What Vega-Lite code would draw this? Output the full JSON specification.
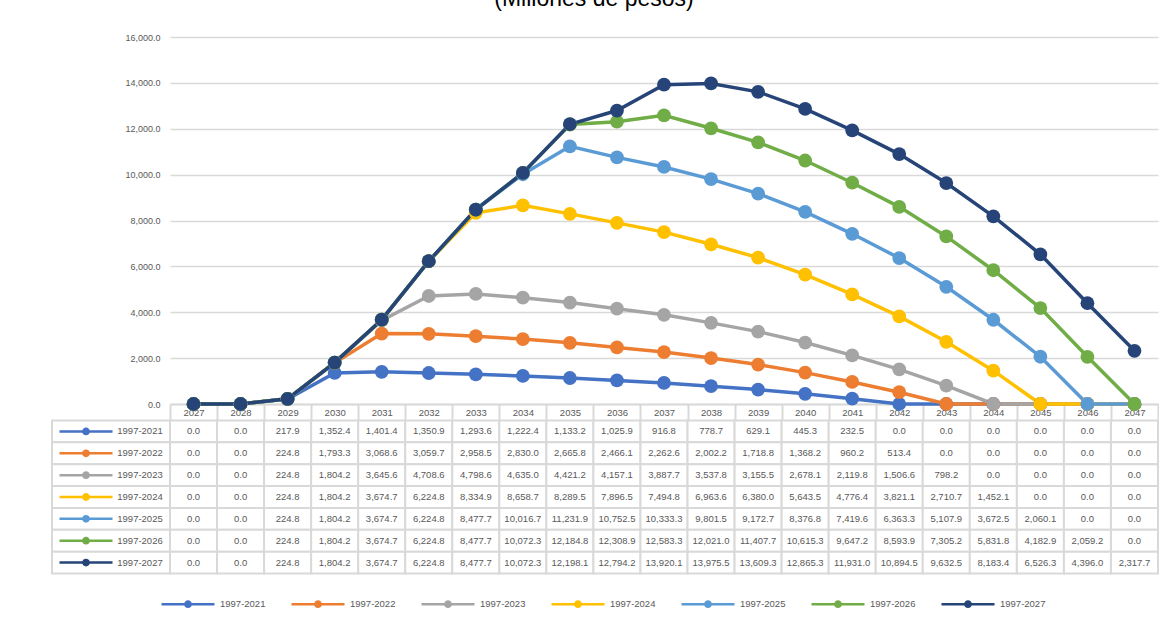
{
  "$schema": "https://vega.github.io/schema/vega-lite/v6.json",
  "background": "white",
  "padding": {"left": 51, "top": -13, "right": 0, "bottom": 0},
  "title": {
    "text": "(Millones de pesos)",
    "anchor": "start",
    "align": "center",
    "dx": 543,
    "offset": 4.5,
    "baseline": "alphabetic",
    "font": "Liberation Sans",
    "fontSize": 23,
    "fontWeight": "normal",
    "color": "#000000"
  },
  "datasets": {
    "proy": [
      {"serie": "1997-2021", "anio": "2027", "valor": 0},
      {"serie": "1997-2021", "anio": "2028", "valor": 0},
      {"serie": "1997-2021", "anio": "2029", "valor": 217.9},
      {"serie": "1997-2021", "anio": "2030", "valor": 1352.4},
      {"serie": "1997-2021", "anio": "2031", "valor": 1401.4},
      {"serie": "1997-2021", "anio": "2032", "valor": 1350.9},
      {"serie": "1997-2021", "anio": "2033", "valor": 1293.6},
      {"serie": "1997-2021", "anio": "2034", "valor": 1222.4},
      {"serie": "1997-2021", "anio": "2035", "valor": 1133.2},
      {"serie": "1997-2021", "anio": "2036", "valor": 1025.9},
      {"serie": "1997-2021", "anio": "2037", "valor": 916.8},
      {"serie": "1997-2021", "anio": "2038", "valor": 778.7},
      {"serie": "1997-2021", "anio": "2039", "valor": 629.1},
      {"serie": "1997-2021", "anio": "2040", "valor": 445.3},
      {"serie": "1997-2021", "anio": "2041", "valor": 232.5},
      {"serie": "1997-2021", "anio": "2042", "valor": 0},
      {"serie": "1997-2021", "anio": "2043", "valor": 0},
      {"serie": "1997-2021", "anio": "2044", "valor": 0},
      {"serie": "1997-2021", "anio": "2045", "valor": 0},
      {"serie": "1997-2021", "anio": "2046", "valor": 0},
      {"serie": "1997-2021", "anio": "2047", "valor": 0},
      {"serie": "1997-2022", "anio": "2027", "valor": 0},
      {"serie": "1997-2022", "anio": "2028", "valor": 0},
      {"serie": "1997-2022", "anio": "2029", "valor": 224.8},
      {"serie": "1997-2022", "anio": "2030", "valor": 1793.3},
      {"serie": "1997-2022", "anio": "2031", "valor": 3068.6},
      {"serie": "1997-2022", "anio": "2032", "valor": 3059.7},
      {"serie": "1997-2022", "anio": "2033", "valor": 2958.5},
      {"serie": "1997-2022", "anio": "2034", "valor": 2830.0},
      {"serie": "1997-2022", "anio": "2035", "valor": 2665.8},
      {"serie": "1997-2022", "anio": "2036", "valor": 2466.1},
      {"serie": "1997-2022", "anio": "2037", "valor": 2262.6},
      {"serie": "1997-2022", "anio": "2038", "valor": 2002.2},
      {"serie": "1997-2022", "anio": "2039", "valor": 1718.8},
      {"serie": "1997-2022", "anio": "2040", "valor": 1368.2},
      {"serie": "1997-2022", "anio": "2041", "valor": 960.2},
      {"serie": "1997-2022", "anio": "2042", "valor": 513.4},
      {"serie": "1997-2022", "anio": "2043", "valor": 0},
      {"serie": "1997-2022", "anio": "2044", "valor": 0},
      {"serie": "1997-2022", "anio": "2045", "valor": 0},
      {"serie": "1997-2022", "anio": "2046", "valor": 0},
      {"serie": "1997-2022", "anio": "2047", "valor": 0},
      {"serie": "1997-2023", "anio": "2027", "valor": 0},
      {"serie": "1997-2023", "anio": "2028", "valor": 0},
      {"serie": "1997-2023", "anio": "2029", "valor": 224.8},
      {"serie": "1997-2023", "anio": "2030", "valor": 1804.2},
      {"serie": "1997-2023", "anio": "2031", "valor": 3645.6},
      {"serie": "1997-2023", "anio": "2032", "valor": 4708.6},
      {"serie": "1997-2023", "anio": "2033", "valor": 4798.6},
      {"serie": "1997-2023", "anio": "2034", "valor": 4635.0},
      {"serie": "1997-2023", "anio": "2035", "valor": 4421.2},
      {"serie": "1997-2023", "anio": "2036", "valor": 4157.1},
      {"serie": "1997-2023", "anio": "2037", "valor": 3887.7},
      {"serie": "1997-2023", "anio": "2038", "valor": 3537.8},
      {"serie": "1997-2023", "anio": "2039", "valor": 3155.5},
      {"serie": "1997-2023", "anio": "2040", "valor": 2678.1},
      {"serie": "1997-2023", "anio": "2041", "valor": 2119.8},
      {"serie": "1997-2023", "anio": "2042", "valor": 1506.6},
      {"serie": "1997-2023", "anio": "2043", "valor": 798.2},
      {"serie": "1997-2023", "anio": "2044", "valor": 0},
      {"serie": "1997-2023", "anio": "2045", "valor": 0},
      {"serie": "1997-2023", "anio": "2046", "valor": 0},
      {"serie": "1997-2023", "anio": "2047", "valor": 0},
      {"serie": "1997-2024", "anio": "2027", "valor": 0},
      {"serie": "1997-2024", "anio": "2028", "valor": 0},
      {"serie": "1997-2024", "anio": "2029", "valor": 224.8},
      {"serie": "1997-2024", "anio": "2030", "valor": 1804.2},
      {"serie": "1997-2024", "anio": "2031", "valor": 3674.7},
      {"serie": "1997-2024", "anio": "2032", "valor": 6224.8},
      {"serie": "1997-2024", "anio": "2033", "valor": 8334.9},
      {"serie": "1997-2024", "anio": "2034", "valor": 8658.7},
      {"serie": "1997-2024", "anio": "2035", "valor": 8289.5},
      {"serie": "1997-2024", "anio": "2036", "valor": 7896.5},
      {"serie": "1997-2024", "anio": "2037", "valor": 7494.8},
      {"serie": "1997-2024", "anio": "2038", "valor": 6963.6},
      {"serie": "1997-2024", "anio": "2039", "valor": 6380.0},
      {"serie": "1997-2024", "anio": "2040", "valor": 5643.5},
      {"serie": "1997-2024", "anio": "2041", "valor": 4776.4},
      {"serie": "1997-2024", "anio": "2042", "valor": 3821.1},
      {"serie": "1997-2024", "anio": "2043", "valor": 2710.7},
      {"serie": "1997-2024", "anio": "2044", "valor": 1452.1},
      {"serie": "1997-2024", "anio": "2045", "valor": 0},
      {"serie": "1997-2024", "anio": "2046", "valor": 0},
      {"serie": "1997-2024", "anio": "2047", "valor": 0},
      {"serie": "1997-2025", "anio": "2027", "valor": 0},
      {"serie": "1997-2025", "anio": "2028", "valor": 0},
      {"serie": "1997-2025", "anio": "2029", "valor": 224.8},
      {"serie": "1997-2025", "anio": "2030", "valor": 1804.2},
      {"serie": "1997-2025", "anio": "2031", "valor": 3674.7},
      {"serie": "1997-2025", "anio": "2032", "valor": 6224.8},
      {"serie": "1997-2025", "anio": "2033", "valor": 8477.7},
      {"serie": "1997-2025", "anio": "2034", "valor": 10016.7},
      {"serie": "1997-2025", "anio": "2035", "valor": 11231.9},
      {"serie": "1997-2025", "anio": "2036", "valor": 10752.5},
      {"serie": "1997-2025", "anio": "2037", "valor": 10333.3},
      {"serie": "1997-2025", "anio": "2038", "valor": 9801.5},
      {"serie": "1997-2025", "anio": "2039", "valor": 9172.7},
      {"serie": "1997-2025", "anio": "2040", "valor": 8376.8},
      {"serie": "1997-2025", "anio": "2041", "valor": 7419.6},
      {"serie": "1997-2025", "anio": "2042", "valor": 6363.3},
      {"serie": "1997-2025", "anio": "2043", "valor": 5107.9},
      {"serie": "1997-2025", "anio": "2044", "valor": 3672.5},
      {"serie": "1997-2025", "anio": "2045", "valor": 2060.1},
      {"serie": "1997-2025", "anio": "2046", "valor": 0},
      {"serie": "1997-2025", "anio": "2047", "valor": 0},
      {"serie": "1997-2026", "anio": "2027", "valor": 0},
      {"serie": "1997-2026", "anio": "2028", "valor": 0},
      {"serie": "1997-2026", "anio": "2029", "valor": 224.8},
      {"serie": "1997-2026", "anio": "2030", "valor": 1804.2},
      {"serie": "1997-2026", "anio": "2031", "valor": 3674.7},
      {"serie": "1997-2026", "anio": "2032", "valor": 6224.8},
      {"serie": "1997-2026", "anio": "2033", "valor": 8477.7},
      {"serie": "1997-2026", "anio": "2034", "valor": 10072.3},
      {"serie": "1997-2026", "anio": "2035", "valor": 12184.8},
      {"serie": "1997-2026", "anio": "2036", "valor": 12308.9},
      {"serie": "1997-2026", "anio": "2037", "valor": 12583.3},
      {"serie": "1997-2026", "anio": "2038", "valor": 12021.0},
      {"serie": "1997-2026", "anio": "2039", "valor": 11407.7},
      {"serie": "1997-2026", "anio": "2040", "valor": 10615.3},
      {"serie": "1997-2026", "anio": "2041", "valor": 9647.2},
      {"serie": "1997-2026", "anio": "2042", "valor": 8593.9},
      {"serie": "1997-2026", "anio": "2043", "valor": 7305.2},
      {"serie": "1997-2026", "anio": "2044", "valor": 5831.8},
      {"serie": "1997-2026", "anio": "2045", "valor": 4182.9},
      {"serie": "1997-2026", "anio": "2046", "valor": 2059.2},
      {"serie": "1997-2026", "anio": "2047", "valor": 0},
      {"serie": "1997-2027", "anio": "2027", "valor": 0},
      {"serie": "1997-2027", "anio": "2028", "valor": 0},
      {"serie": "1997-2027", "anio": "2029", "valor": 224.8},
      {"serie": "1997-2027", "anio": "2030", "valor": 1804.2},
      {"serie": "1997-2027", "anio": "2031", "valor": 3674.7},
      {"serie": "1997-2027", "anio": "2032", "valor": 6224.8},
      {"serie": "1997-2027", "anio": "2033", "valor": 8477.7},
      {"serie": "1997-2027", "anio": "2034", "valor": 10072.3},
      {"serie": "1997-2027", "anio": "2035", "valor": 12198.1},
      {"serie": "1997-2027", "anio": "2036", "valor": 12794.2},
      {"serie": "1997-2027", "anio": "2037", "valor": 13920.1},
      {"serie": "1997-2027", "anio": "2038", "valor": 13975.5},
      {"serie": "1997-2027", "anio": "2039", "valor": 13609.3},
      {"serie": "1997-2027", "anio": "2040", "valor": 12865.3},
      {"serie": "1997-2027", "anio": "2041", "valor": 11931.0},
      {"serie": "1997-2027", "anio": "2042", "valor": 10894.5},
      {"serie": "1997-2027", "anio": "2043", "valor": 9632.5},
      {"serie": "1997-2027", "anio": "2044", "valor": 8183.4},
      {"serie": "1997-2027", "anio": "2045", "valor": 6526.3},
      {"serie": "1997-2027", "anio": "2046", "valor": 4396.0},
      {"serie": "1997-2027", "anio": "2047", "valor": 2317.7}
    ]
  },
  "columns": 2,
  "spacing": {"row": 16.5, "column": 0},
  "bounds": "flush",
  "concat": [
    {
      "width": 118,
      "height": 367,
      "data": {"values": []},
      "mark": "point"
    },
    {
      "width": 988,
      "height": 367,
      "data": {"name": "proy"},
      "encoding": {
        "x": {
          "field": "anio",
          "type": "ordinal",
          "scale": {"type": "band", "paddingInner": 0, "paddingOuter": 0},
          "axis": {
            "title": null,
            "grid": false,
            "domain": true,
            "domainColor": "#d9d9d9",
            "domainWidth": 2,
            "tickBand": "extent",
            "ticks": true,
            "tickSize": 16.5,
            "tickWidth": 2,
            "tickColor": "#d9d9d9",
            "labelPadding": -8.25,
            "labelBaseline": "middle",
            "labelAngle": 0,
            "labelFontSize": 9.5,
            "labelColor": "#595959"
          }
        },
        "y": {
          "field": "valor",
          "type": "quantitative",
          "scale": {"domain": [0, 16000], "nice": false},
          "axis": {
            "title": null,
            "values": [0, 2000, 4000, 6000, 8000, 10000, 12000, 14000, 16000],
            "format": ",.1f",
            "ticks": false,
            "domain": false,
            "labelPadding": 10,
            "labelFontSize": 9,
            "labelColor": "#595959",
            "gridColor": "#d9d9d9",
            "gridWidth": 1.3
          }
        },
        "color": {
          "field": "serie",
          "type": "nominal",
          "scale": {"range": ["#4472C4", "#ED7D31", "#A5A5A5", "#FFC000", "#5B9BD5", "#70AD47", "#264478"]},
          "legend": {
            "title": null,
            "orient": "none",
            "legendX": 108,
            "legendY": 539,
            "direction": "horizontal",
            "padding": 0,
            "symbolType": "M-1,0H1M-0.1,0A0.1,0.1,0,1,0,0.1,0A0.1,0.1,0,1,0,-0.1,0Z",
            "symbolSize": 2809,
            "symbolStrokeWidth": 2.5,
            "labelFontSize": 9.5,
            "labelColor": "#595959",
            "labelOffset": 4,
            "columnPadding": 20,
            "encode": {
              "symbols": {
                "update": {
                  "fill": {"scale": "color", "field": "value"},
                  "stroke": {"scale": "color", "field": "value"},
                  "strokeWidth": {"value": 2.5},
                  "opacity": {"value": 1}
                }
              }
            }
          }
        }
      },
      "layer": [
        {"mark": {"type": "line", "strokeWidth": 3.5}},
        {"mark": {"type": "point", "shape": "circle", "filled": true, "opacity": 1, "size": 190, "strokeWidth": 0}}
      ]
    },
    {
      "width": 118,
      "height": 153,
      "data": {"name": "proy"},
      "transform": [{"aggregate": [{"op": "count", "as": "n"}], "groupby": ["serie"]}],
      "encoding": {
        "y": {
          "field": "serie",
          "type": "nominal",
          "scale": {"type": "band", "paddingInner": 0, "paddingOuter": 0},
          "axis": null
        }
      },
      "layer": [
        {"mark": {"type": "rect", "fill": "white", "stroke": "#d9d9d9", "strokeWidth": 2}},
        {
          "mark": {
            "type": "point",
            "shape": "M-1,0H1M-0.1,0A0.1,0.1,0,1,0,0.1,0A0.1,0.1,0,1,0,-0.1,0Z",
            "size": 2809,
            "filled": true,
            "opacity": 1,
            "strokeWidth": 2.5
          },
          "encoding": {
            "x": {
              "datum": "clave",
              "type": "nominal",
              "scale": {"type": "band", "domain": ["clave", "etiqueta"], "paddingInner": 0, "paddingOuter": 0.0926, "align": 0.7},
              "axis": null
            },
            "color": {"field": "serie", "type": "nominal"},
            "stroke": {
              "field": "serie",
              "type": "nominal",
              "scale": {"range": ["#4472C4", "#ED7D31", "#A5A5A5", "#FFC000", "#5B9BD5", "#70AD47", "#264478"]},
              "legend": null
            }
          }
        },
        {
          "mark": {"type": "text", "fontSize": 9.5, "color": "#595959"},
          "encoding": {
            "x": {"datum": "etiqueta", "type": "nominal"},
            "text": {"field": "serie"}
          }
        }
      ]
    },
    {
      "width": 988,
      "height": 153,
      "data": {"name": "proy"},
      "encoding": {
        "x": {
          "field": "anio",
          "type": "ordinal",
          "scale": {"type": "band", "paddingInner": 0, "paddingOuter": 0},
          "axis": null
        },
        "y": {
          "field": "serie",
          "type": "nominal",
          "scale": {"type": "band", "paddingInner": 0, "paddingOuter": 0},
          "axis": null
        }
      },
      "layer": [
        {"mark": {"type": "rect", "fill": "white", "stroke": "#d9d9d9", "strokeWidth": 2}},
        {
          "mark": {"type": "text", "fontSize": 9.5, "color": "#595959"},
          "encoding": {"text": {"field": "valor", "type": "quantitative", "format": ",.1f"}}
        }
      ]
    }
  ],
  "config": {
    "view": {"stroke": null},
    "font": "Liberation Sans"
  }
}
